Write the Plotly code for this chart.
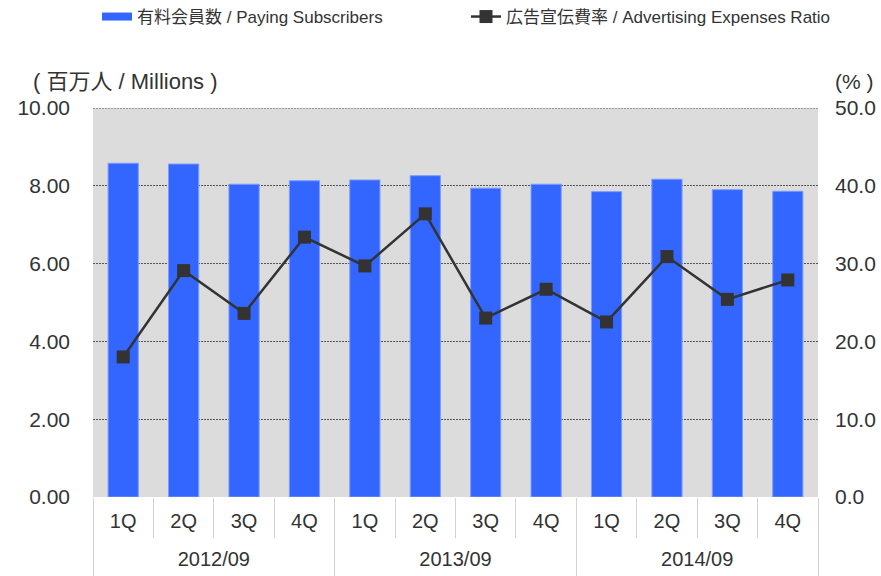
import plotly.graph_objects as go

years = ["2012/09"] * 4 + ["2013/09"] * 4 + ["2014/09"] * 4
quarters = ["1Q", "2Q", "3Q", "4Q"] * 3
subscribers = [8.58, 8.56, 8.04, 8.13, 8.15, 8.26, 7.94, 8.04, 7.85, 8.17, 7.90, 7.86]
ad_ratio = [18.0, 29.1, 23.6, 33.4, 29.7, 36.4, 23.0, 26.7, 22.5, 30.9, 25.4, 27.9]

FONT = "Liberation Sans, Arial, Noto Sans CJK JP, sans-serif"
TXT = "#333333"
SEP = "#D3D3D3"
W, H = 881, 576
L, R, T = 93, 63, 108
BOTTOM_PX = 497                       # pixel row of the plot area's bottom
PH = H - T                            # paper height (bottom margin 0)
y_dom0 = (H - BOTTOM_PX) / PH

# unique category ids, labelled with the quarter names
cats = [f"{y} {q}" for y, q in zip(years, quarters)]
n = len(cats)
year_names = list(dict.fromkeys(years))
year_centers = [sum(i for i, y in enumerate(years) if y == yn) / years.count(yn) for yn in year_names]
year_bounds = [-0.5] + [i - 0.5 for i in range(1, n) if years[i] != years[i - 1]] + [n - 0.5]

def px_to_paper_y(py):
    return (H - py) / PH

fig = go.Figure()
fig.add_trace(go.Bar(
    x=cats, y=subscribers, name="有料会員数 / Paying Subscribers",
    marker=dict(color="#3366FF", line=dict(color="#7C9BFF", width=1)),
    width=0.5, showlegend=False,
))
fig.add_trace(go.Scatter(
    x=[cats[0]], y=[None], mode="lines", legend="legend",
    name="有料会員数 / Paying Subscribers",
    line=dict(color="#3366FF", width=8), hoverinfo="skip",
))
fig.add_trace(go.Scatter(
    x=cats, y=ad_ratio, mode="lines+markers", legend="legend2",
    name="広告宣伝費率 / Advertising Expenses Ratio",
    line=dict(color="#333333", width=2.5),
    marker=dict(symbol="square", size=13, color="#333333"),
    yaxis="y2",
))
# carrier for the year-level axis
fig.add_trace(go.Scatter(x=[None], y=[None], xaxis="x2", showlegend=False, hoverinfo="skip"))

leg_common = dict(
    orientation="h", xref="container", yref="container",
    y=1 - 17 / H, xanchor="left", yanchor="middle",
    font=dict(size=17, color=TXT), bgcolor="rgba(0,0,0,0)", itemclick=False,
)

fig.update_layout(
    width=W, height=H,
    margin=dict(l=L, r=R, t=T, b=0, pad=0),
    paper_bgcolor="white", plot_bgcolor="#DCDCDC",
    font=dict(family=FONT, size=21, color=TXT),
    showlegend=True,
    legend=dict(x=97 / W, **leg_common),
    legend2=dict(x=466 / W, **leg_common),
    xaxis=dict(
        type="category", domain=[0, 1], anchor="y", range=[-0.5, n - 0.5],
        tickvals=cats, ticktext=quarters,
        showgrid=False, zeroline=False, showline=False, automargin=False,
        tickson="boundaries", ticks="outside", ticklen=40, tickcolor=SEP, tickwidth=1,
        tickfont=dict(size=20, color=TXT), ticklabelstandoff=10,
    ),
    xaxis2=dict(
        overlaying="x", anchor="y", side="bottom", type="linear",
        range=[-0.5, n - 0.5], tickvals=year_centers, ticktext=year_names,
        ticks="", showgrid=False, zeroline=False, showline=False, automargin=False,
        tickfont=dict(size=20, color=TXT), ticklabelstandoff=48,
        minor=dict(tickvals=year_bounds, ticks="outside", ticklen=H - BOTTOM_PX,
                   tickcolor=SEP, tickwidth=1, showgrid=False),
    ),
    yaxis=dict(
        domain=[y_dom0, 1], range=[0, 10], dtick=2, tickformat=".2f", showgrid=True,
        gridcolor="#555555", griddash="2px,1px", gridwidth=1, zeroline=False,
        ticks="", ticklabelstandoff=22, tickfont=dict(size=21, color=TXT),
        automargin=False,
    ),
    yaxis2=dict(
        range=[0, 50], dtick=10, tickformat=".1f", overlaying="y", side="right",
        showgrid=False, zeroline=False, ticks="", ticklabelstandoff=16,
        tickfont=dict(size=21, color=TXT), automargin=False,
    ),
    shapes=[
        dict(type="line", xref="paper", yref="y", x0=0, x1=1, y0=10, y1=10,
             line=dict(color="#555555", width=1, dash="2px,1px"), layer="above"),
    ],
    annotations=[
        dict(text="( 百万人 / Millions )", xref="paper", yref="paper",
             x=(31 - L) / (W - L - R), y=px_to_paper_y(82), xanchor="left", yanchor="middle",
             showarrow=False, font=dict(size=22, color=TXT)),
        dict(text="(% )", xref="paper", yref="paper",
             x=(833 - L) / (W - L - R), y=px_to_paper_y(82), xanchor="left", yanchor="middle",
             showarrow=False, font=dict(size=21, color=TXT)),
    ],
)

fig.write_html(
    "out.html",
    config={"displayModeBar": False},
    post_script="document.body.style.margin='0';document.body.style.padding='0';",
)
